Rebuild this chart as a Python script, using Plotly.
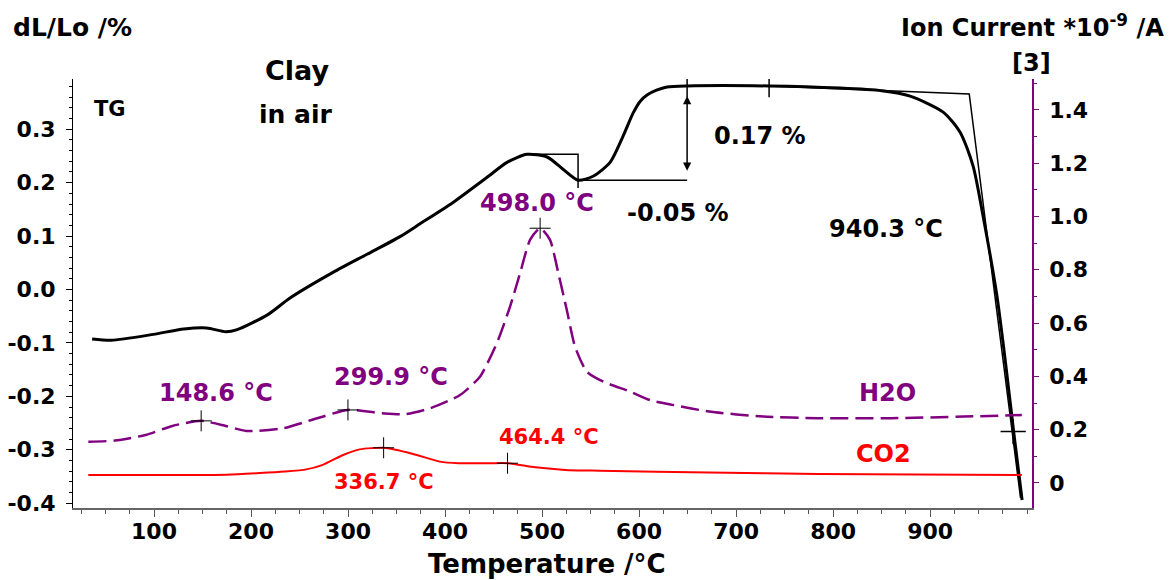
import plotly.graph_objects as go

# ---------------- data ----------------
# TG / dilatometer curve (left axis, dL/Lo %)
tg_temp = [36.2, 55.9, 99.2, 130.7, 154.3, 174, 185.8, 217.3, 240.2, 284.5, 319.6, 353.6,
           374.2, 408.2, 443.3, 463.9, 484.5, 505.2, 521.6, 537.1, 552.6, 570.1, 583.5,
           593.8, 601, 608.2, 618, 628.9, 649.5, 734, 807.2, 850, 879.4, 913.4, 930.9,
           944.3, 954.6, 968.6, 977.3, 986.1, 994.8]
tg_val = [-0.0925, -0.095, -0.084, -0.074, -0.072, -0.079, -0.075, -0.047, -0.016, 0.032,
          0.066, 0.099, 0.123, 0.163, 0.210, 0.238, 0.253, 0.248, 0.225, 0.2045, 0.212,
          0.238, 0.287, 0.330, 0.352, 0.364, 0.373, 0.379, 0.381, 0.381, 0.377, 0.372,
          0.362, 0.332, 0.2945, 0.231, 0.137, -0.009, -0.131, -0.266, -0.394]

# H2O ion current (right axis)
h2o_temp = [32.3, 59.8, 91.3, 118.9, 148.6, 174, 195, 233, 264.6, 299.9, 335.4, 359, 384.5,
            415.5, 436, 453.3, 467, 477.3, 487.6, 498, 508.2, 516.8, 525.5, 534, 546, 563.2,
            590.7, 611.3, 634.5, 672, 728, 784.5, 859.5, 934.5, 994.5]
h2o_val = [0.155, 0.159, 0.18, 0.214, 0.233, 0.214, 0.195, 0.205, 0.239, 0.274, 0.2615,
           0.258, 0.28, 0.33, 0.399, 0.524, 0.662, 0.787, 0.912, 0.956, 0.912, 0.787, 0.649,
           0.511, 0.418, 0.380, 0.343, 0.311, 0.293, 0.268, 0.249, 0.243, 0.243, 0.249, 0.255]

# CO2 ion current (right axis)
co2_temp = [32.3, 138.6, 174.6, 209, 235, 257, 274, 295, 312, 336.7, 367, 394.5, 414, 445.7,
            464.4, 493, 524, 559.5, 672, 784.5, 994.5]
co2_val = [0.030, 0.030, 0.031, 0.037, 0.043, 0.051, 0.068, 0.105, 0.126, 0.132, 0.109,
           0.080, 0.074, 0.074, 0.074, 0.059, 0.049, 0.046, 0.039, 0.034, 0.030]

# peak markers
h2o_peak_temp = [148.6, 299.9, 498.0]
h2o_peak_val = [0.233, 0.274, 0.956]
co2_peak_temp = [336.7, 464.4]
co2_peak_val = [0.132, 0.074]

# TG evaluation (steps and onset)
step1_temp = [484.5, 537.1, 537.1]
step1_val = [0.253, 0.253, 0.19]
step2_temp = [537.1, 649.5]
step2_val = [0.2045, 0.2045]
step2_arrow_temp = 649.5
step2_arrow_val = [0.2195, 0.362]
onset_temp = [734, 940.3, 993.2]
onset_val = [0.381, 0.366, -0.39]
tg_tick_temp = [649.5, 734]
tg_tick_val = [0.381, 0.381]
tg_cross_temp = [985.6]
tg_cross_val = [-0.266]

x_ticks = [100, 200, 300, 400, 500, 600, 700, 800, 900]
yl_ticks = [-0.4, -0.3, -0.2, -0.1, 0.0, 0.1, 0.2, 0.3]
yl_labels = ["-0.4", "-0.3", "-0.2", "-0.1", "0.0", "0.1", "0.2", "0.3"]
yr_ticks = [0, 0.2, 0.4, 0.6, 0.8, 1.0, 1.2, 1.4]
yr_labels = ["0", "0.2", "0.4", "0.6", "0.8", "1.0", "1.2", "1.4"]

# ---------------- styling ----------------
FONT = "DejaVu Sans"
PURPLE = "#800080"
RED = "#FF0000"
OFF = 8                     # default page body margin
SW, SH = 1172, 580          # screen size
PL, PR, PT, PB = 73, 1032, 79, 508   # plot area on screen
W, H = SW - OFF, SH - OFF
ML, MR, MT, MB = PL - OFF, SW - PR, PT - OFF, SH - PB
PW = PR - PL
PH = PB - PT


def px(x):
    return (x - PL) / PW


def py(y):
    return (PB - y) / PH


fig = go.Figure()

fig.add_trace(go.Scatter(x=co2_temp, y=co2_val, yaxis="y2", mode="lines",
                         line=dict(color=RED, width=2, shape="spline", smoothing=0.6),
                         hoverinfo="skip"))
fig.add_trace(go.Scatter(x=h2o_temp, y=h2o_val, yaxis="y2", mode="lines",
                         line=dict(color=PURPLE, width=2.5, dash="18px,7px",
                                   shape="spline", smoothing=0.6),
                         hoverinfo="skip"))
fig.add_trace(go.Scatter(x=tg_temp, y=tg_val, yaxis="y", mode="lines",
                         line=dict(color="black", width=3, shape="spline", smoothing=0.7),
                         hoverinfo="skip"))

thin = dict(color="black", width=1.5)
fig.add_trace(go.Scatter(x=step1_temp, y=step1_val, mode="lines", line=thin, hoverinfo="skip"))
fig.add_trace(go.Scatter(x=step2_temp, y=step2_val, mode="lines", line=thin, hoverinfo="skip"))
fig.add_trace(go.Scatter(x=onset_temp, y=onset_val, mode="lines", line=thin, hoverinfo="skip"))

fig.add_trace(go.Scatter(x=tg_tick_temp, y=tg_tick_val, mode="markers",
                         marker=dict(symbol="line-ns", size=16,
                                     line=dict(width=1.5, color="black")),
                         hoverinfo="skip"))
fig.add_trace(go.Scatter(x=tg_cross_temp, y=tg_cross_val, mode="markers",
                         marker=dict(symbol="cross-thin", size=18,
                                     line=dict(width=1.5, color="black")),
                         hoverinfo="skip"))
fig.add_trace(go.Scatter(x=h2o_peak_temp, y=h2o_peak_val, yaxis="y2", mode="markers",
                         marker=dict(symbol="cross-thin", size=15,
                                     line=dict(width=1, color="black")),
                         hoverinfo="skip"))
fig.add_trace(go.Scatter(x=co2_peak_temp, y=co2_peak_val, yaxis="y2", mode="markers",
                         marker=dict(symbol="cross-thin", size=15,
                                     line=dict(width=1, color="black")),
                         hoverinfo="skip"))


def txt(text, x, y, size, color="black", xref="paper", yref="paper", xanchor="center"):
    return dict(text=text, x=x, y=y, xref=xref, yref=yref, showarrow=False,
                xanchor=xanchor, yanchor="middle",
                font=dict(family=FONT, size=size, color=color, weight="bold"))


annotations = [
    txt("dL/Lo /%", px(72), py(28), 25),
    txt("Ion Current *10<sup>-9</sup> /A", px(1032), py(26), 24),
    txt("[3]", px(1031), py(63), 24),
    txt("Temperature /°C", px(547), py(564), 26),
    txt("TG", px(110), py(109), 21),
    txt("Clay", px(297), py(71), 27),
    txt("in air", px(296), py(114), 25),
    txt("0.17 %", 724.7, 0.287, 24, xref="x", yref="y"),
    txt("-0.05 %", 640.2, 0.143, 24, xref="x", yref="y"),
    txt("940.3 °C", 854.6, 0.113, 24, xref="x", yref="y"),
    txt("148.6 °C", 164, 0.338, 24, PURPLE, xref="x", yref="y2"),
    txt("299.9 °C", 344.3, 0.398, 24, PURPLE, xref="x", yref="y2"),
    txt("498.0 °C", 494.8, 1.051, 24, PURPLE, xref="x", yref="y2"),
    txt("H2O", 855.7, 0.338, 24, PURPLE, xref="x", yref="y2"),
    txt("464.4 °C", 507.2, 0.173, 21, RED, xref="x", yref="y2"),
    txt("336.7 °C", 337.1, 0.004, 21, RED, xref="x", yref="y2"),
    txt("CO2", 851.5, 0.109, 24, RED, xref="x", yref="y2"),
    dict(x=step2_arrow_temp, y=step2_arrow_val[1], ax=step2_arrow_temp, ay=step2_arrow_val[0],
         xref="x", yref="y", axref="x", ayref="y", text="", showarrow=True,
         arrowhead=2, startarrowhead=2, arrowside="end+start", arrowsize=1.1,
         arrowwidth=1.5, arrowcolor="black"),
]

tickfont = dict(family=FONT, size=22, color="black", weight="bold")

fig.update_layout(
    width=W, height=H,
    margin=dict(l=ML, r=MR, t=MT, b=MB, pad=0, autoexpand=False),
    paper_bgcolor="white", plot_bgcolor="white",
    showlegend=False,
    annotations=annotations,
    xaxis=dict(range=[16.5, 1005], tickvals=x_ticks, ticks="outside", ticklen=7,
               tickwidth=1, tickcolor="#555555", showline=True, linecolor="#666666",
               linewidth=2, showgrid=False, zeroline=False, tickfont=tickfont,
               ticklabelstandoff=-4, automargin=False,
               minor=dict(dtick=25, tick0=0, ticks="outside", ticklen=4,
                          tickcolor="#555555", showgrid=False)),
    yaxis=dict(range=[-0.409, 0.394], tickvals=yl_ticks, ticktext=yl_labels,
               ticks="outside", ticklen=6, tickcolor="black", showline=True,
               linecolor="black", linewidth=1, showgrid=False, zeroline=False,
               tickfont=tickfont, ticklabelstandoff=6, automargin=False,
               minor=dict(dtick=0.02, tick0=0, ticks="outside", ticklen=3,
                          tickcolor="black", showgrid=False)),
    yaxis2=dict(range=[-0.094, 1.516], overlaying="y", side="right", anchor="x",
                tickvals=yr_ticks, ticktext=yr_labels, ticks="outside", ticklen=5,
                tickcolor=PURPLE, showline=True, linecolor=PURPLE, linewidth=1.5,
                showgrid=False, zeroline=False, tickfont=tickfont, ticklabelstandoff=6,
                automargin=False,
                minor=dict(dtick=0.1, tick0=0, ticks="outside", ticklen=3,
                           tickcolor=PURPLE, showgrid=False)),
)

fig.write_html("out.html")
